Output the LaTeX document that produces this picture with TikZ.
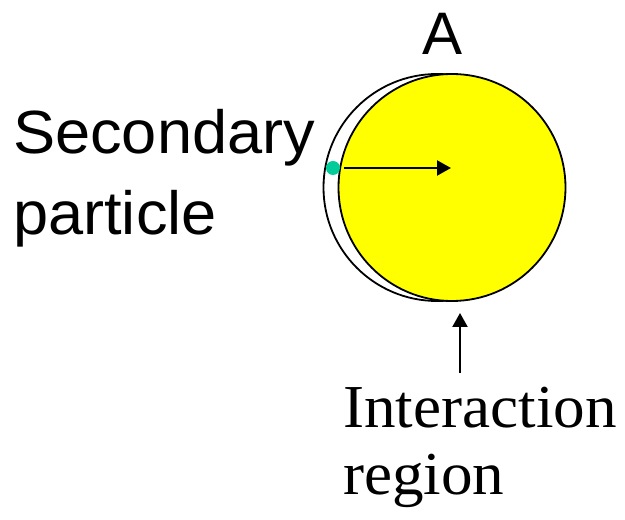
\documentclass[tikz,border=0pt]{standalone}
\usepackage{fontspec}
\setmainfont{Liberation Serif}
\setsansfont{Liberation Sans}
\usepackage{tikz}
\usetikzlibrary{positioning,arrows.meta}
\usepackage{xcolor}
\definecolor{RegionYellow}{RGB}{255, 255, 0}
\definecolor{ParticleGreen}{RGB}{0, 204, 153}

\begin{document}
\begin{tikzpicture}[x=1pt,y=1pt,every node/.style={inner sep=0pt,align=left},
    ring/.style={circle,draw=black,line width=1.8pt,minimum size=227pt},
    pointer/.style={-{Triangle[length=14pt,width=15pt]},line width=2.2pt,black}]
    \useasboundingbox (0,0) rectangle (625,520);
    \node[ring,fill=white] (shell) at (437,332.5) {};
    \node[ring,fill=RegionYellow] (region) at (452,332.5) {};
    \node[circle,fill=ParticleGreen,minimum size=14pt] (particle) at (333,352) {};
    \coordinate (centre) at (451,352);
    \coordinate (below) at (460,147);
    \coordinate (edge) at (460,207);
    \draw[pointer] (particle.east) ++(4,0) -- (centre);
    \draw[pointer] (below) -- (edge);
    \node[anchor=base,font=\sffamily\fontsize{60}{72}\selectfont] (labelA) at (442.5,465) {A};
    \node[anchor=north west,xscale=1.035,font=\sffamily\fontsize{61}{81}\selectfont] (secondary) at (13,411) {Secondary\\particle};
    \node[anchor=north west,xscale=1.035,font=\rmfamily\fontsize{61}{67}\selectfont] (interaction) at (343,133) {Interaction\\region};
\end{tikzpicture}
\end{document}
